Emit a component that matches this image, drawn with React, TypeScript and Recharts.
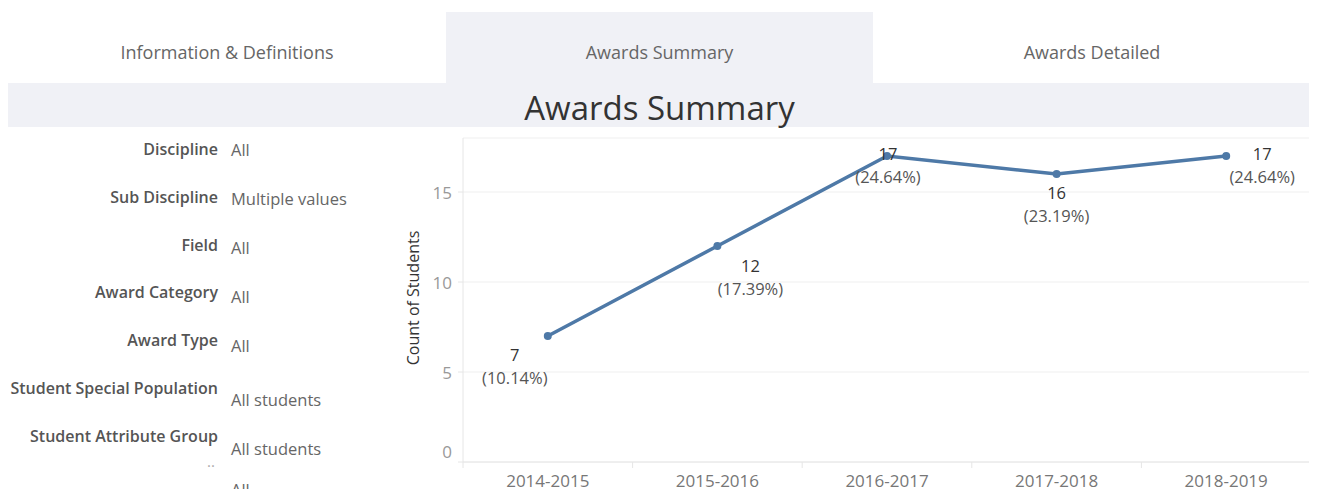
import { CartesianGrid, LabelList, Line, LineChart, XAxis, YAxis } from "recharts";

const years = ["2014-2015", "2015-2016", "2016-2017", "2017-2018", "2018-2019"];
const counts = [7, 12, 17, 16, 17];
const shares = ["10.14%", "17.39%", "24.64%", "23.19%", "24.64%"];
const yTicks = [0, 5, 10, 15];

const tabs = ["Information & Definitions", "Awards Summary", "Awards Detailed"];
const filterNames = [
  "Discipline",
  "Sub Discipline",
  "Field",
  "Award Category",
  "Award Type",
  "Student Special Population",
  "Student Attribute Group",
];
const filterValues = ["All", "Multiple values", "All", "All", "All", "All students", "All students"];

const data = years.map((y, i) => ({ year: y, count: counts[i], share: shares[i] }));

const FONT = "'Open Sans', 'Noto Sans', sans-serif";
const BLUE = "#4e79a7";

// where each two-line label sits relative to its point
const labelPos = [
  { dx: -33, dy: 18 },
  { dx: 33, dy: 19 },
  { dx: 1, dy: -3 },
  { dx: 0, dy: 18 },
  { dx: 36, dy: -3 },
];

const PointLabel = (props: any) => {
  const { x, y, index } = props;
  const p = labelPos[index] ?? { dx: 0, dy: 18 };
  const d = data[index];
  return (
    <g fontFamily={FONT} fontSize={16.5} textAnchor="middle">
      <text x={x + p.dx} y={y + p.dy} dominantBaseline="central" fill="#333">
        {d.count}
      </text>
      <text x={x + p.dx} y={y + p.dy + 23} dominantBaseline="central" fill="#555">
        ({d.share})
      </text>
    </g>
  );
};

const YTick = (props: any) => {
  const { x, y, payload } = props;
  const shift = payload.value === 0 ? -11 : 0;
  return (
    <text x={x - 4} y={y + shift} textAnchor="end" dominantBaseline="central" fill="#999" fontSize={17} fontFamily={FONT}>
      {payload.value}
    </text>
  );
};

const BAND = 848 / years.length;

const XTick = (props: any) => {
  const { x, y, payload, index } = props;
  const left = x - BAND / 2;
  return (
    <g>
      <line x1={left} x2={left} y1={y - 8} y2={y - 2} stroke="#e6e6e6" />
      {index === years.length - 1 && (
        <line x1={x + BAND / 2} x2={x + BAND / 2} y1={y - 8} y2={y - 2} stroke="#e6e6e6" />
      )}
      <text x={x} y={y + 10} textAnchor="middle" dominantBaseline="central" fill="#777" fontSize={17} fontFamily={FONT}>
        {payload.value}
      </text>
    </g>
  );
};

export default function App() {
  return (
    <div style={{ position: "relative", width: 1317, height: 497, margin: -8, overflow: "hidden", background: "#fff", fontFamily: FONT }}>
      {tabs.map((t, i) => {
        const lefts = [8, 446, 873];
        const widths = [438, 427, 438];
        return (
          <div
            key={t}
            style={{
              position: "absolute",
              left: lefts[i],
              top: 12,
              width: widths[i],
              height: 71,
              background: i === 1 ? "#f0f1f6" : "#fff",
              color: "#666",
              fontSize: 18,
              display: "flex",
              alignItems: "center",
              justifyContent: "center",
              paddingTop: 8,
              boxSizing: "border-box",
            }}
          >
            {t}
          </div>
        );
      })}
      <div
        style={{
          position: "absolute",
          left: 8,
          top: 83,
          width: 1303,
          height: 44,
          background: "#f0f1f6",
          color: "#333",
          fontSize: 33,
          display: "flex",
          alignItems: "center",
          justifyContent: "center",
          paddingTop: 4,
          boxSizing: "border-box",
        }}
      >
        Awards Summary
      </div>

      {filterNames.map((f, i) => (
        <div key={f}>
          <div
            style={{
              position: "absolute",
              right: 1317 - 218,
              top: 138 + i * 47.8,
              fontSize: 16,
              fontWeight: 600,
              color: "#555",
              whiteSpace: "nowrap",
            }}
          >
            {f}
          </div>
          <div
            style={{
              position: "absolute",
              left: 231,
              top: 138 + i * 47.8 + Math.min(i, 6) * 1.2 + (i >= 5 ? 5 : 0),
              fontSize: 16.5,
              color: "#666",
              whiteSpace: "nowrap",
            }}
          >
            {filterValues[i]}
          </div>
        </div>
      ))}
      <div style={{ position: "absolute", left: 207, top: 451, fontSize: 15, color: "#aaa" }}>..</div>
      <div style={{ position: "absolute", left: 231, top: 478, fontSize: 16.5, lineHeight: "24px", color: "#666" }}>All</div>

      <div
        style={{
          position: "absolute",
          left: 413,
          top: 298,
          transform: "translate(-50%, -50%) rotate(-90deg)",
          fontSize: 16,
          color: "#333",
          whiteSpace: "nowrap",
        }}
      >
        Count of Students
      </div>

      <div style={{ position: "absolute", left: 400, top: 130 }}>
        <LineChart width={917} height={367} data={data} margin={{ top: 8, right: 6, bottom: 0, left: 0 }}>
          <CartesianGrid stroke="#efefef" vertical={false} />
          <XAxis
            dataKey="year"
            height={35}
            axisLine={{ stroke: "#e6e6e6" }}
            tickLine={false}
            tick={<XTick />}
            interval={0}
            padding={{ left: BAND / 2, right: BAND / 2 }}
          />
          <YAxis
            domain={[0, 18]}
            ticks={yTicks}
            width={63}
            axisLine={{ stroke: "#e6e6e6" }}
            tickLine={{ stroke: "#e6e6e6" }}
            tickSize={5}
            tick={<YTick />}
          />
          <Line
            type="linear"
            dataKey="count"
            stroke={BLUE}
            strokeWidth={3.5}
            dot={{ r: 4, fill: BLUE, stroke: BLUE, strokeWidth: 0 }}
            activeDot={false}
            isAnimationActive={false}
          >
            <LabelList dataKey="count" content={<PointLabel />} />
          </Line>
        </LineChart>
      </div>
    </div>
  );
}
